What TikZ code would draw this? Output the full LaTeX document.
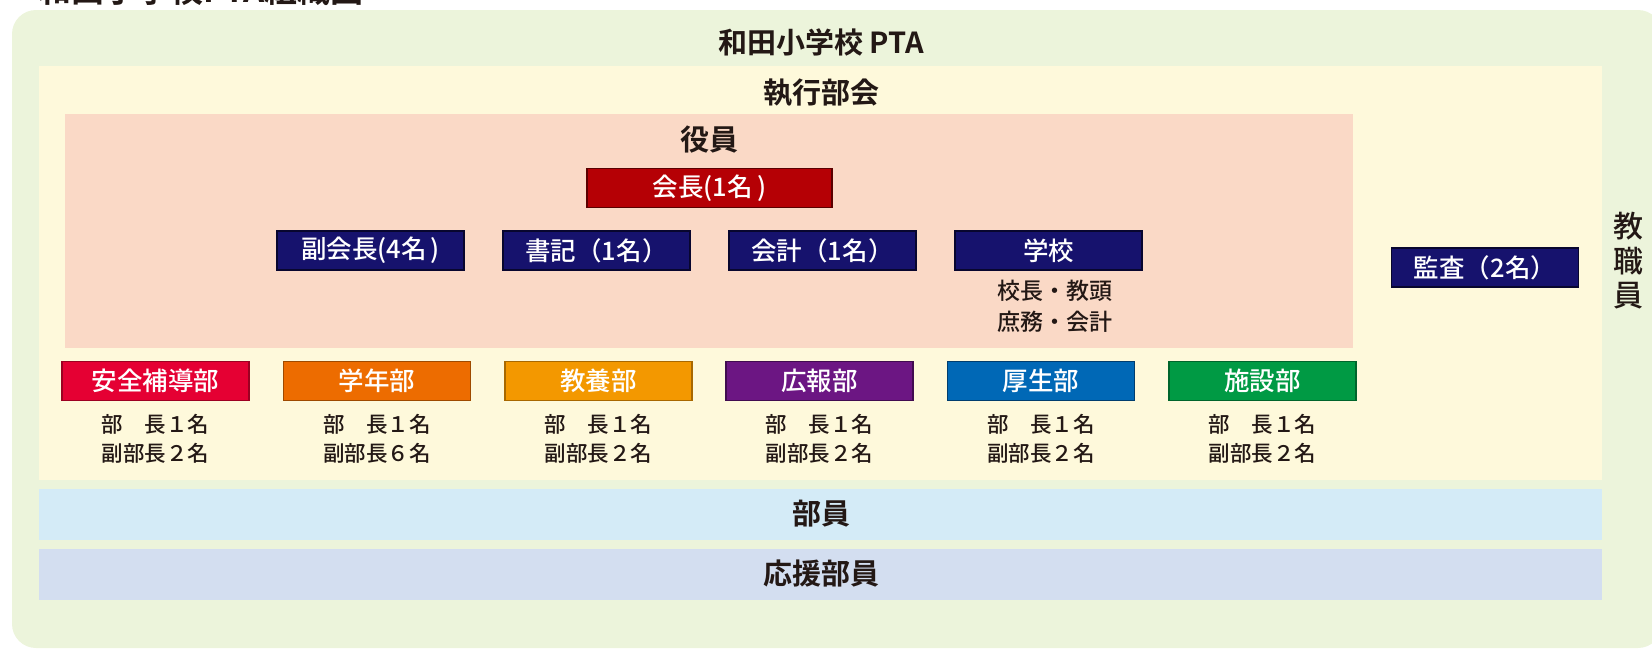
\documentclass[tikz,border=0pt]{standalone}
\usepackage{fontspec}
\setmainfont{Noto Sans CJK JP}[BoldFont={* Bold}]
\newfontfamily\mediumfont{Noto Sans CJK JP Medium}
\usetikzlibrary{positioning}

\definecolor{bgGreen}{HTML}{ECF4DB}
\definecolor{bgYellow}{HTML}{FEF9DB}
\definecolor{bgPink}{HTML}{FAD9C6}
\definecolor{bgBlue}{HTML}{D4EBF7}
\definecolor{bgLilac}{HTML}{D3DEF0}
\definecolor{inkDark}{HTML}{231815}
\definecolor{navyFill}{HTML}{16126D}
\definecolor{navyLine}{HTML}{08062E}
\definecolor{redFill}{HTML}{B50005}
\definecolor{redLine}{HTML}{5A0000}
\definecolor{anzenFill}{HTML}{E50033}
\definecolor{anzenLine}{HTML}{9C0022}
\definecolor{gakuFill}{HTML}{ED6C00}
\definecolor{gakuLine}{HTML}{9E4A00}
\definecolor{kyoFill}{HTML}{F39800}
\definecolor{kyoLine}{HTML}{A86800}
\definecolor{kohoFill}{HTML}{6C1683}
\definecolor{kohoLine}{HTML}{410C50}
\definecolor{koseiFill}{HTML}{0068B6}
\definecolor{koseiLine}{HTML}{003D6E}
\definecolor{shisetsuFill}{HTML}{009A44}
\definecolor{shisetsuLine}{HTML}{00652C}

\begin{document}
\begin{tikzpicture}[x=1pt,y=-1pt,node distance=221.4pt,
    head text/.style={text=inkDark,font=\fontsize{29}{34}\selectfont\bfseries,inner sep=0pt},
    box/.style={draw,line width=1.6pt,minimum width=187pt,minimum height=39pt,inner sep=0pt,text=white,font=\fontsize{25.5}{28}\selectfont\mediumfont},
    navy box/.style={box,fill=navyFill,draw=navyLine},
    sub text/.style={text=inkDark,align=center,inner sep=0pt,font=\fontsize{21.5}{29.5}\selectfont\mediumfont}]

                \useasboundingbox (0,0) rectangle (1652,653);
                \clip (0,0) rectangle (1652,653);

                % backgrounds
                \fill[bgGreen,rounded corners=24pt] (12,10) rectangle (1662,648);
                \fill[bgYellow] (39,66) rectangle (1602,480);
                \fill[bgPink] (65,114) rectangle (1353,348);
                \fill[bgBlue] (39,489) rectangle (1602,540);
                \fill[bgLilac] (39,549) rectangle (1602,600);

                % headings
                \node[head text,anchor=base west,font=\fontsize{33}{36}\selectfont\bfseries] (zu) at (38,2) {和田小学校PTA組織図};
                \node[head text] (pta) at (821,42) {和田小学校 PTA};
                \node[head text] (shikko) at (821,93) {執行部会};
                \node[head text] (yakuin) at (709,140) {役員};
                \node[head text,font=\fontsize{30}{34.5}\selectfont\mediumfont,align=center] (kyoshoku) at (1628,261) {教\\職\\員};

                % officers
                \node[box,fill=redFill,draw=redLine,minimum width=245pt] (kaicho) at (709.5,188) {会長(1名\,)};
                \node[navy box] (fuku) at (370.5,250.5) {副会長(4名\,)};
                \node[navy box,right of=fuku,node distance=226pt] (shoki) {書記（1名）};
                \node[navy box,right of=shoki,node distance=226pt] (kaikei) {会計（1名）};
                \node[navy box,right of=kaikei,node distance=226pt] (gakko) {学校};
                \node[sub text,below of=gakko,node distance=56pt,xshift=6pt,font=\fontsize{23}{31.5}\selectfont\mediumfont] (gakkoN) {校長・教頭\\庶務・会計};
                \node[navy box] (kansa) at (1485,267.5) {監査（2名）};

                % departments
                \node[box,fill=anzenFill,draw=anzenLine] (anzen) at (155.5,381) {安全補導部};
                \node[box,fill=gakuFill,draw=gakuLine,right of=anzen] (gakunen) {学年部};
                \node[box,fill=kyoFill,draw=kyoLine,right of=gakunen] (kyoyo) {教養部};
                \node[box,fill=kohoFill,draw=kohoLine,right of=kyoyo] (koho) {広報部};
                \node[box,fill=koseiFill,draw=koseiLine,right of=koho] (kosei) {厚生部};
                \node[box,fill=shisetsuFill,draw=shisetsuLine,right of=kosei] (shisetsu) {施設部};

                \node[sub text,below of=anzen,node distance=58pt] (anzenN) {部　長１名\\副部長２名};
                \node[sub text,below of=gakunen,node distance=58pt] (gakunenN) {部　長１名\\副部長６名};
                \node[sub text,below of=kyoyo,node distance=58pt] (kyoyoN) {部　長１名\\副部長２名};
                \node[sub text,below of=koho,node distance=58pt] (kohoN) {部　長１名\\副部長２名};
                \node[sub text,below of=kosei,node distance=58pt] (koseiN) {部　長１名\\副部長２名};
                \node[sub text,below of=shisetsu,node distance=58pt] (shisetsuN) {部　長１名\\副部長２名};

                % members
                \node[head text] (buin) at (821,514) {部員};
                \node[head text] (oen) at (821,574) {応援部員};

                ;
            \end{tikzpicture}
\end{document}
